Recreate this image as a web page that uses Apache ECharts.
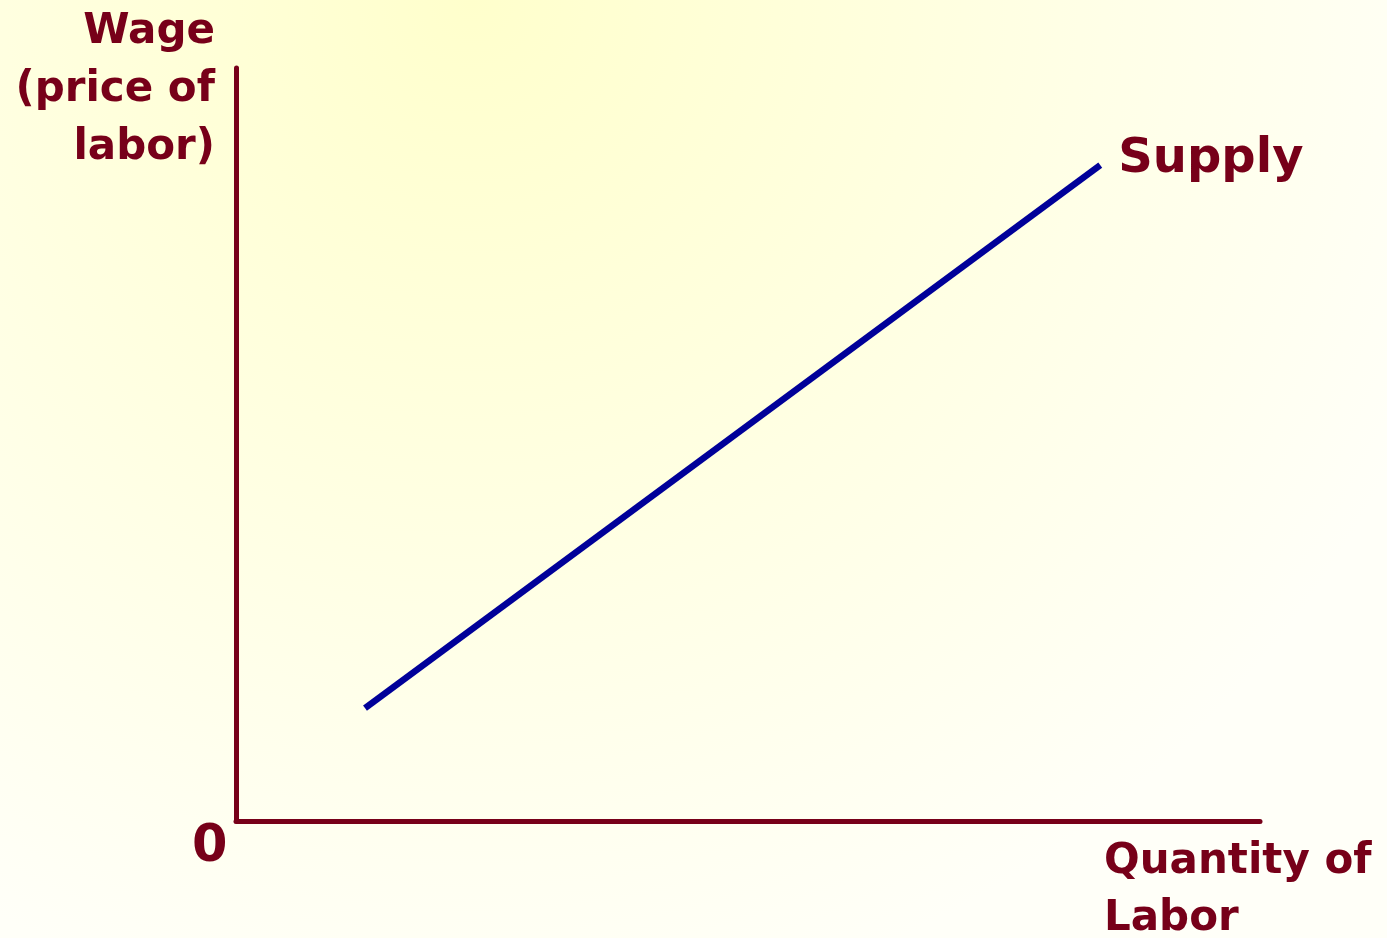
<!DOCTYPE html>
<html>
<head>
<meta charset="utf-8">
<script src="https://cdn.jsdelivr.net/npm/echarts@6/dist/echarts.min.js"></script>
<style>
  html, body { margin: 0; padding: 0; }
  #main { width: 1387px; height: 938px; }
</style>
</head>
<body>
<div id="main"></div>
<script>
// supply curve end points (quantity, wage) on a 0-100 scale
var quantity = [12.6, 84.4];
var wage = [15.0, 87.1];
var seriesName = "Supply";
var yAxisLabel = ["Wage", "(price of", "labor)"];
var xAxisLabel = ["Quantity of", "Labor"];
var originLabel = "0";

var dark = "#770019";
var font = "DejaVu Sans";

var chartDom = document.getElementById("main");
var myChart = echarts.init(chartDom);

var points = quantity.map(function (q, i) {
  return [q, wage[i]];
});

var option = {
  animation: false,
  backgroundColor: {
    type: "radial",
    x: 0.34,
    y: 0,
    r: 1.1,
    colorStops: [
      { offset: 0, color: "#ffffcc" },
      { offset: 1, color: "#fffff8" },
    ],
  },
  grid: {
    left: 236,
    right: 127,
    top: 68,
    bottom: 117,
  },
  xAxis: {
    type: "value",
    min: 0,
    max: 100,
    axisLine: { show: true, lineStyle: { color: dark, width: 5 } },
    axisTick: { show: false },
    axisLabel: { show: false },
    splitLine: { show: false },
  },
  yAxis: {
    type: "value",
    min: 0,
    max: 100,
    axisLine: { show: true, lineStyle: { color: dark, width: 5 } },
    axisTick: { show: false },
    axisLabel: { show: false },
    splitLine: { show: false },
  },
  graphic: [
    {
      // y axis title, right aligned against the axis
      type: "text",
      x: 215,
      y: 3,
      style: {
        text: yAxisLabel.join("\n"),
        fill: dark,
        font: "bold 42px '" + font + "'",
        lineHeight: 58,
        align: "right",
        verticalAlign: "top",
      },
    },
    {
      type: "text",
      x: 1104,
      y: 834,
      style: {
        text: xAxisLabel.join("\n"),
        fill: dark,
        font: "bold 42px '" + font + "'",
        lineHeight: 57,
        verticalAlign: "top",
      },
    },
    {
      type: "text",
      x: 192,
      y: 822,
      style: {
        text: originLabel,
        fill: dark,
        font: "bold 51px '" + font + "'",
        verticalAlign: "top",
      },
    },
  ],
  series: [
    {
      name: seriesName,
      type: "line",
      data: points,
      symbol: "none",
      lineStyle: { color: "#000099", width: 6.5, cap: "butt" },
      endLabel: {
        show: true,
        formatter: "{a}",
        color: dark,
        fontFamily: font,
        fontWeight: "bold",
        fontSize: 48,
        distance: 18,
        offset: [0, -6],
      },
    },
  ],
};
myChart.setOption(option);
</script>
</body>
</html>
